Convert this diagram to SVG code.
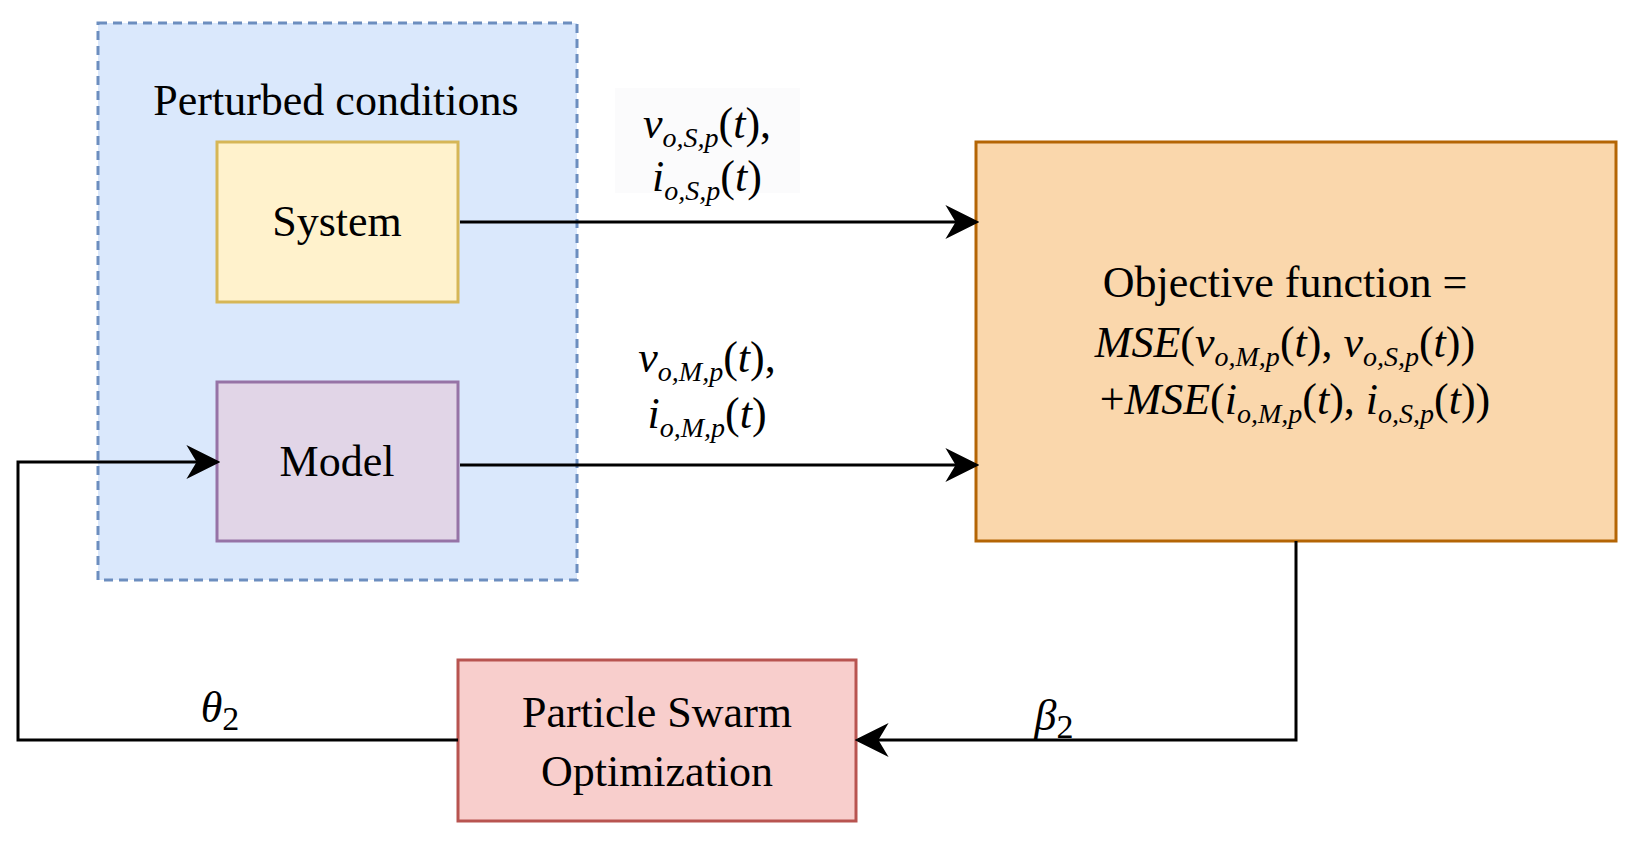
<svg xmlns="http://www.w3.org/2000/svg" width="1632" height="846" viewBox="0 0 1632 846">
<style>
text{font-family:'Liberation Serif','DejaVu Serif',serif;font-size:44px;fill:#000;text-anchor:middle}
.m{font-style:italic}
.s{font-size:28px;font-style:italic}
.ln{fill:none;stroke:#000;stroke-width:3}
</style>
<defs>
<marker id="ar" viewBox="0 0 10 10" refX="9" refY="5" markerWidth="34" markerHeight="34" orient="auto" markerUnits="userSpaceOnUse"><path d="M0,0 L10,5 L0,10 L3,5 Z"/></marker></defs>
<rect width="1632" height="846" fill="#fff"/>
<g id="perturbed"><rect x="98" y="23" width="479" height="557" fill="#dae8fc" stroke="#6c8ebf" stroke-width="3" stroke-dasharray="9,6"/><text x="336" y="115" font-family="Liberation Serif">Perturbed conditions</text></g>
<g id="system"><rect x="217" y="142" width="241" height="160" fill="#fff2cc" stroke="#d6b656" stroke-width="3"/><text x="337" y="236">System</text></g>
<g id="model"><rect x="217" y="382" width="241" height="159" fill="#e1d5e7" stroke="#9673a6" stroke-width="3"/><text x="337" y="476">Model</text></g>
<g id="objective"><rect x="976" y="142" width="640" height="399" fill="#fad7ac" stroke="#b46504" stroke-width="3"/>
<text x="1285" y="297">Objective function =</text>
<text x="1285" y="357"><tspan class="m">MSE</tspan>(<tspan class="m">v</tspan><tspan class="s" dy="9">o,M,p</tspan><tspan dy="-9">(</tspan><tspan class="m">t</tspan>), <tspan class="m">v</tspan><tspan class="s" dy="9">o,S,p</tspan><tspan dy="-9">(</tspan><tspan class="m">t</tspan>))</text>
<text x="1295" y="414">+<tspan class="m">MSE</tspan>(<tspan class="m">i</tspan><tspan class="s" dy="9">o,M,p</tspan><tspan dy="-9">(</tspan><tspan class="m">t</tspan>), <tspan class="m">i</tspan><tspan class="s" dy="9">o,S,p</tspan><tspan dy="-9">(</tspan><tspan class="m">t</tspan>))</text></g>
<g id="pso"><rect x="458" y="660" width="398" height="161" fill="#f8cecc" stroke="#b85450" stroke-width="3"/><text x="657" y="727">Particle Swarm</text><text x="657" y="786">Optimization</text></g>
<g id="connectors">
<path class="ln" d="M460 222 H976" marker-end="url(#ar)"/>
<path class="ln" d="M460 465 H976" marker-end="url(#ar)"/>
<path class="ln" d="M458 740 H18 V462 H217" marker-end="url(#ar)"/>
<path class="ln" d="M1296 541 V740 H858" marker-end="url(#ar)"/>
</g>
<g id="labels">
<rect x="615" y="88" width="185" height="105" fill="#f8f9fa" opacity="0.6"/>
<text x="707" y="138"><tspan class="m">v</tspan><tspan class="s" dy="9">o,S,p</tspan><tspan dy="-9">(</tspan><tspan class="m">t</tspan>),</text>
<text x="707" y="191"><tspan class="m">i</tspan><tspan class="s" dy="9">o,S,p</tspan><tspan dy="-9">(</tspan><tspan class="m">t</tspan>)</text>
<text x="707" y="372"><tspan class="m">v</tspan><tspan class="s" dy="9">o,M,p</tspan><tspan dy="-9">(</tspan><tspan class="m">t</tspan>),</text>
<text x="707" y="428"><tspan class="m">i</tspan><tspan class="s" dy="9">o,M,p</tspan><tspan dy="-9">(</tspan><tspan class="m">t</tspan>)</text>
<text x="220" y="722" font-size="50"><tspan class="m">θ</tspan><tspan font-size="34" dy="8">2</tspan></text>
<text x="1054" y="730" font-size="50"><tspan class="m">β</tspan><tspan font-size="34" dy="8">2</tspan></text>
</g>
</svg>
